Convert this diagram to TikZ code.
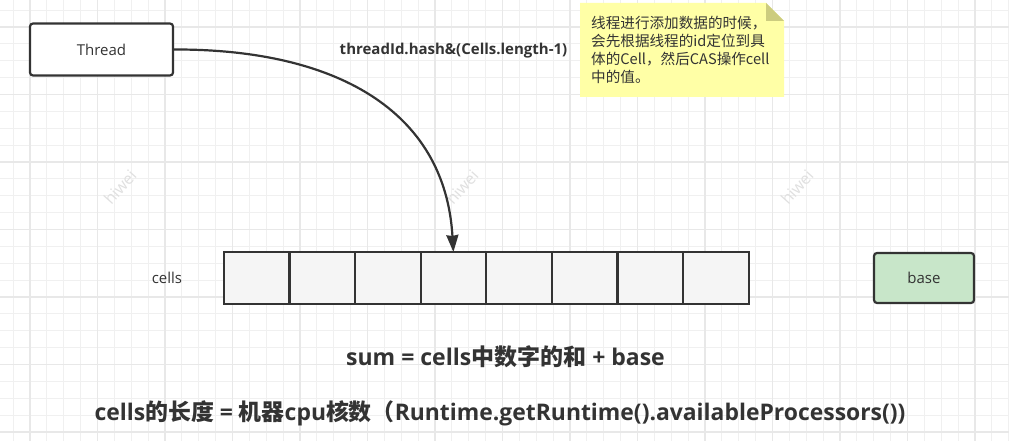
\documentclass[tikz,border=0pt]{standalone}
\usepackage{fontspec}
\setmainfont{Open Sans}
\newfontfamily\cjk{Noto Sans CJK SC}
\usetikzlibrary{arrows.meta,positioning}
\definecolor{ink}{HTML}{333333}
\definecolor{cellgray}{HTML}{F5F5F5}
\definecolor{basegreen}{HTML}{C8E6C9}
\definecolor{noteyellow}{HTML}{FFFFA6}
\definecolor{notefold}{HTML}{CCCC7F}
\tikzset{
  box/.style={draw=ink, line width=2.2pt, rounded corners=3pt, text=ink, font=\fontsize{15}{18}\selectfont, inner sep=0pt},
  cellbox/.style={draw=ink, line width=2.2pt, fill=cellgray, minimum width=65.6pt, minimum height=52pt, inner sep=0pt, outer sep=0pt},
  plaintext/.style={text=ink, font=\fontsize{15}{18}\selectfont, inner sep=0pt},
  boldtext/.style={text=ink, font=\bfseries\fontsize{23}{28}\selectfont, inner sep=0pt},
  watermark/.style={text=black!12, font=\fontsize{16}{18}\selectfont, rotate=48, inner sep=0pt},
  gridminor/.style={draw=black!6, line width=1pt},
  gridmajor/.style={draw=black!9, line width=1.3pt}
}
\begin{document}
\begin{tikzpicture}[x=1pt,y=-1pt]
  \useasboundingbox (0,0) rectangle (1009,441);
  \fill[white] (0,0) rectangle (1009,441);
  % grid
  \foreach \i in {0,...,59} \draw[gridminor] ({13.125+16.875*\i},0) -- ({13.125+16.875*\i},441);
  \foreach \i in {0,...,26} \draw[gridminor] (0,{10.1+16.875*\i}) -- (1009,{10.1+16.875*\i});
  \foreach \i in {0,...,14} \draw[gridmajor] ({30+67.5*\i},0) -- ({30+67.5*\i},441);
  \foreach \i in {0,...,6} \draw[gridmajor] (0,{27+67.5*\i}) -- (1009,{27+67.5*\i});
  % watermark
  \node[watermark] (hiwei1) at (120,187) {hiwei};
  \node[watermark] (hiwei2) at (462,187) {hiwei};
  \node[watermark] (hiwei3) at (797,187) {hiwei};
  % note
  \fill[noteyellow] (580,3) -- (766,3) -- (784,21) -- (784,97) -- (580,97) -- cycle;
  \fill[notefold] (766,3) -- (784,21) -- (766,21) -- cycle;
  \node[plaintext, anchor=north west, align=left, font=\cjk\fontsize{14.6}{18}\selectfont] (note) at (591,15.5)
    {线程进行添加数据的时候，\\会先根据线程的id定位到具\\体的Cell，然后CAS操作cell\\中的值。};
  % boxes
  \node[box, fill=white, minimum width=143pt, minimum height=52pt] (thread) at (101.5,49.5) {Thread};
  \node[box, fill=basegreen, minimum width=100pt, minimum height=50pt] (base) at (924,278) {base};
  \node[plaintext] (cellsname) at (167,278) {cells};
  % cells
  \node[cellbox] (cell1) at (256.6,278) {};
  \foreach \i [remember=\i as \j (initially 1)] in {2,...,8}
    \node[cellbox, right=0pt of cell\j] (cell\i) {};
  % arrow
  \draw[ink, line width=2.2pt, -{Stealth[length=17pt,width=12pt,inset=1pt]}] (thread.east) .. controls (335,49) and (445,110) .. (cell4.north);
  % labels
  \node[plaintext, font=\bfseries\fontsize{15}{18}\selectfont] (hashname) at (453.5,51) {threadId.hash\&(Cells.length-1)};
  \node[boldtext] (sumname) at (505.5,357) {sum = cells{\cjk 中数字的和} + base};
  \node[boldtext, font=\bfseries\fontsize{22.9}{28}\selectfont] (lengthname) at (500,413) {cells{\cjk 的长度} = {\cjk 机器}cpu{\cjk 核数（}Runtime.getRuntime().availableProcessors())};
\end{tikzpicture}
\end{document}
